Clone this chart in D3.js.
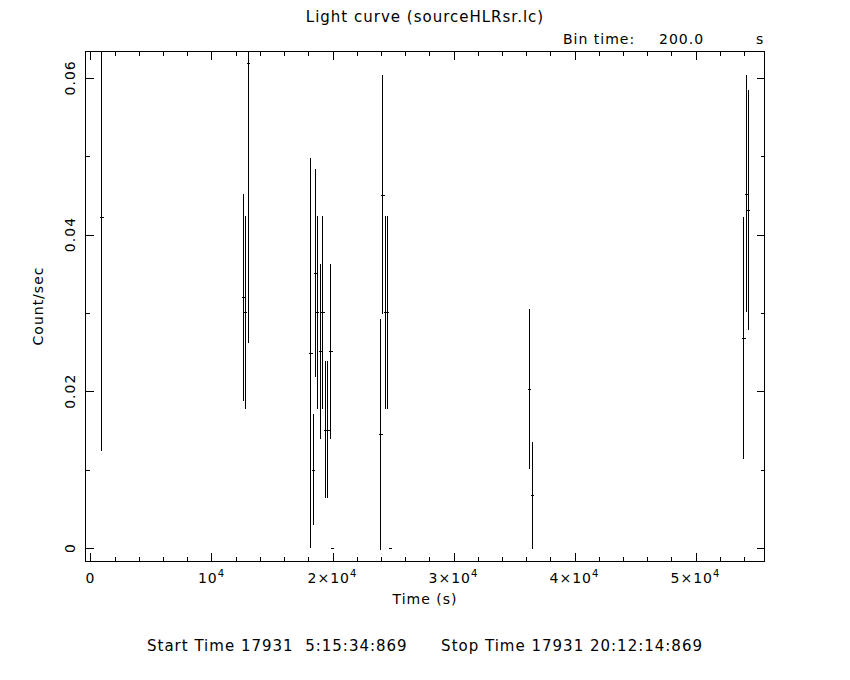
<!DOCTYPE html>
<html>
<head>
<meta charset="UTF-8">
<title>Light curve</title>
<script src="https://d3js.org/d3.v7.min.js"></script>
<style>
  body { margin: 0; background: #fff; }
  text { font-family: "DejaVu Sans", sans-serif; fill: #000; letter-spacing: 1px; }
</style>
</head>
<body>
<div id="chart"></div>
<script>
// light curve bins: time (s), rate (count/sec), 1-sigma error
var times = [900, 12630, 12790, 13040, 18170, 18410, 18580, 18740, 18990, 19160, 19420, 19580,
             19820, 19960, 23950, 24120, 24360, 24500, 24730, 36260, 36510, 53950, 54200, 54360];
var rates = [0.0423, 0.0320, 0.0301, 0.0619, 0.0249, 0.0100, 0.0351, 0.0301, 0.0251, 0.0301, 0.0151, 0.0151,
             0.0251, 0.0, 0.0145, 0.0451, 0.0301, 0.0301, 0.0, 0.0203, 0.0067, 0.0268, 0.0452, 0.0431];
var errors = [0.0299, 0.0132, 0.0123, 0.0357, 0.0249, 0.0071, 0.0133, 0.0123, 0.0112, 0.0123, 0.0087, 0.0087,
              0.0112, 0.0, 0.0147, 0.0152, 0.0123, 0.0123, 0.0, 0.0102, 0.0068, 0.0155, 0.0151, 0.0153];
var binTime = 200;

var xTickValues = [0, 10000, 20000, 30000, 40000, 50000];
var xTickBase = ["0", "10", "2×10", "3×10", "4×10", "5×10"];
var xTickExp = ["", "4", "4", "4", "4", "4"];
var yTickValues = [0, 0.02, 0.04, 0.06];
var yTickLabels = ["0", "0.02", "0.04", "0.06"];

(function () {
  var W = 850, H = 680;
  var pLeft = 85.5, pRight = 764.5, pTop = 51.5, pBottom = 561;

  var svg = d3.select("#chart").append("svg")
      .attr("width", W).attr("height", H)
      .style("shape-rendering", "crispEdges");

  var x = d3.scaleLinear().domain([-413, 55702]).range([pLeft, pRight]);
  var y = d3.scaleLinear().domain([-0.00166, 0.06336]).range([pBottom, pTop]);

  var data = times.map(function (t, i) { return { t: t, r: rates[i], e: errors[i] }; });

  // clip for the error bars
  svg.append("clipPath").attr("id", "plotclip")
    .append("rect").attr("x", pLeft).attr("y", pTop)
    .attr("width", pRight - pLeft).attr("height", pBottom - pTop);

  var g = svg.append("g").attr("clip-path", "url(#plotclip)");

  // vertical error bars
  g.selectAll(".ebar").data(data).enter().append("line")
      .attr("x1", function (d) { return Math.round(x(d.t)) + 0.5; })
      .attr("x2", function (d) { return Math.round(x(d.t)) + 0.5; })
      .attr("y1", function (d) { return y(d.r - d.e); })
      .attr("y2", function (d) { return y(d.r + d.e); })
      .attr("stroke", "#000").attr("stroke-width", 1);

  // horizontal bin width marks
  g.selectAll(".hbar").data(data).enter().append("line")
      .attr("x1", function (d) { return x(d.t - binTime / 2); })
      .attr("x2", function (d) { return x(d.t + binTime / 2) + 1; })
      .attr("y1", function (d) { return Math.round(y(d.r)) + 0.5; })
      .attr("y2", function (d) { return Math.round(y(d.r)) + 0.5; })
      .attr("stroke", "#000").attr("stroke-width", 1);

  // frame
  svg.append("rect")
      .attr("x", pLeft).attr("y", pTop)
      .attr("width", pRight - pLeft).attr("height", pBottom - pTop)
      .attr("fill", "none").attr("stroke", "#000").attr("stroke-width", 1);

  // ticks (inward, all four sides)
  var xMinor = d3.range(0, 55702, 2000).filter(function (v) { return v % 10000 !== 0; });
  var yMinor = [0.01, 0.03, 0.05];
  var major = 8, minor = 4;

  function xTicks(vals, len) {
    vals.forEach(function (v) {
      var px = Math.round(x(v)) + 0.5;
      svg.append("line").attr("x1", px).attr("x2", px).attr("y1", pBottom).attr("y2", pBottom - len)
        .attr("stroke", "#000");
      svg.append("line").attr("x1", px).attr("x2", px).attr("y1", pTop).attr("y2", pTop + len)
        .attr("stroke", "#000");
    });
  }
  function yTicks(vals, len) {
    vals.forEach(function (v) {
      var py = Math.round(y(v)) + 0.5;
      svg.append("line").attr("x1", pLeft).attr("x2", pLeft + len).attr("y1", py).attr("y2", py)
        .attr("stroke", "#000");
      svg.append("line").attr("x1", pRight).attr("x2", pRight - len).attr("y1", py).attr("y2", py)
        .attr("stroke", "#000");
    });
  }
  xTicks(xTickValues, major);
  xTicks(xMinor, minor);
  yTicks(yTickValues, major);
  yTicks(yMinor, minor);

  // x tick labels with superscript exponent
  xTickValues.forEach(function (v, i) {
    var t = svg.append("text")
        .attr("x", x(v)).attr("y", 583)
        .attr("text-anchor", "middle")
        .style("font-size", "14px")
        .text(xTickBase[i]);
    if (xTickExp[i]) {
      t.append("tspan").attr("dy", -6).style("font-size", "10px").text(xTickExp[i]);
    }
  });

  // y tick labels, rotated
  yTickValues.forEach(function (v, i) {
    svg.append("text")
        .attr("transform", "translate(75," + y(v) + ") rotate(-90)")
        .attr("text-anchor", "middle")
        .style("font-size", "14px")
        .text(yTickLabels[i]);
  });

  // axis titles
  svg.append("text").attr("x", 425).attr("y", 604)
      .attr("text-anchor", "middle").style("font-size", "14px").text("Time (s)");
  svg.append("text")
      .attr("transform", "translate(43,306) rotate(-90)")
      .attr("text-anchor", "middle").style("font-size", "14px").text("Count/sec");

  // header
  svg.append("text").attr("x", 425).attr("y", 22)
      .attr("text-anchor", "middle").style("font-size", "15px").text("Light curve (sourceHLRsr.lc)");
  svg.append("text").attr("x", 563).attr("y", 44).style("font-size", "14px").text("Bin time:");
  svg.append("text").attr("x", 659).attr("y", 44).style("font-size", "14px").text("200.0");
  svg.append("text").attr("x", 756).attr("y", 44).style("font-size", "14px").text("s");

  // footer
  svg.append("text").attr("x", 147).attr("y", 651).style("font-size", "15px")
      .attr("xml:space", "preserve").text("Start Time 17931  5:15:34:869");
  svg.append("text").attr("x", 703).attr("y", 651).attr("text-anchor", "end").style("font-size", "15px")
      .text("Stop Time 17931 20:12:14:869");
})();
</script>
</body>
</html>
